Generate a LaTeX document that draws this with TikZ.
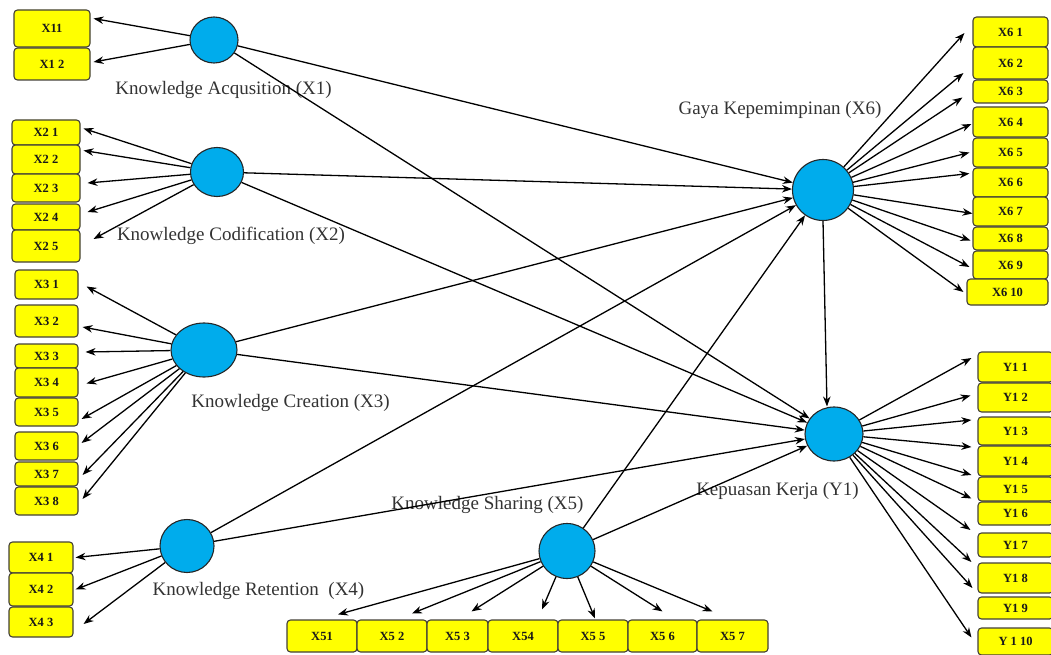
\documentclass[tikz,border=0pt]{standalone}
\usepackage{fontspec}
\setmainfont{Liberation Serif}
\usetikzlibrary{shapes.geometric, arrows.meta}

\definecolor{latentblue}{RGB}{0,172,236}
\definecolor{indyellow}{RGB}{255,255,0}

\begin{document}
\begin{tikzpicture}[
  x=1pt, y=-1pt,
  latent/.style={draw=black!85, ellipse, fill=latentblue, line width=1.1pt, inner sep=0pt},
  ind/.style={draw=black!85!yellow, fill=indyellow, rounded corners=3.5pt, line width=1.1pt, inner sep=0pt, text=black!90, font=\fontsize{12.5}{13}\selectfont\bfseries},
  lbl/.style={font=\fontsize{19}{21}\selectfont, text=black!80},
  arr/.style={-{Stealth[length=10pt,width=7.5pt]}, line width=1.3pt}
]
\useasboundingbox (0,0) rectangle (1051,655);

% ---- Variabel laten ----
\node[latent, minimum width=48pt, minimum height=46pt] (X1) at (214,40) {};
\node[latent, minimum width=53pt, minimum height=49pt] (X2) at (217,172) {};
\node[latent, minimum width=66pt, minimum height=54pt] (X3) at (204,350) {};
\node[latent, minimum width=54pt, minimum height=53pt] (X4) at (187,546) {};
\node[latent, minimum width=56pt, minimum height=55pt] (X5) at (567,551) {};
\node[latent, minimum width=61pt, minimum height=61pt] (X6) at (823,190) {};
\node[latent, minimum width=58pt, minimum height=54pt] (Y1) at (834,434) {};

\node[lbl] (lblX1) at (223.5,90) {Knowledge Acqusition (X1)};
\node[lbl] (lblX2) at (231,236) {Knowledge Codification (X2)};
\node[lbl] (lblX3) at (290.5,403) {Knowledge Creation (X3)};
\node[lbl] (lblX4) at (258.5,591) {Knowledge Retention~~(X4)};
\node[lbl] (lblX5) at (487.5,505) {Knowledge Sharing (X5)};
\node[lbl] (lblX6) at (780,110) {Gaya Kepemimpinan (X6)};
\node[lbl] (lblY1) at (777.5,491) {Kepuasan Kerja (Y1)};

% ---- Indikator kiri ----
\foreach \n/\t/\ya/\yb/\dx/\dy in {x11/X11/10/47/3/-10, x12/X1 2/48/80/3/-2} {
  \node[ind, minimum width=76pt, minimum height=\yb pt-\ya pt] (\n) at (52,{(\ya+\yb)/2}) {\t};
  \draw[arr] (X1) -- ([shift={(\dx,\dy)}]\n.east);
}
\foreach \n/\t/\ya/\yb/\dx/\dy in {x21/X2 1/120/145/3/-4, x22/X2 2/145/174/3/-9, x23/X2 3/174/202/7/-5,
    x24/X2 4/204/230/7/-5, x25/X2 5/230/262/13/-7} {
  \node[ind, minimum width=68pt, minimum height=\yb pt-\ya pt] (\n) at (46,{(\ya+\yb)/2}) {\t};
  \draw[arr] (X2) -- ([shift={(\dx,\dy)}]\n.east);
}
\foreach \n/\t/\ya/\yb/\dx/\dy in {x31/X3 1/270/299/8/2, x32/X3 2/305/337/4/6, x33/X3 3/344/368/7/-4,
    x34/X3 4/368/397/8/1, x35/X3 5/398/426/3/7, x36/X3 6/432/460/3/-3, x37/X3 7/462/486/4/1, x38/X3 8/487/515/4/-2} {
  \node[ind, minimum width=63pt, minimum height=\yb pt-\ya pt] (\n) at (46.5,{(\ya+\yb)/2}) {\t};
  \draw[arr] (X3) -- ([shift={(\dx,\dy)}]\n.east);
}
\foreach \n/\t/\ya/\yb/\dx/\dy in {x41/X4 1/542/573/2/0, x42/X4 2/573/606/2/0, x43/X4 3/607/637/10/2} {
  \node[ind, minimum width=64pt, minimum height=\yb pt-\ya pt] (\n) at (41,{(\ya+\yb)/2}) {\t};
  \draw[arr] (X4) -- ([shift={(\dx,\dy)}]\n.east);
}

% ---- Indikator bawah ----
\foreach \n/\t/\xa/\xb/\dx/\dy in {x51/X51/287/357/16/-5, x52/X5 2/357/427/20/-6, x53/X5 3/427/488/14/-8,
    x54/X54/488/558/19/-10, x55/X5 5/558/628/2/-1, x56/X5 6/628/697/0/-8, x57/X5 7/697/768/-20/-8} {
  \node[ind, minimum width=\xb pt-\xa pt, minimum height=32pt] (\n) at ({(\xa+\xb)/2},636) {\t};
  \draw[arr] (X5) -- ([shift={(\dx,\dy)}]\n.north);
}

% ---- Indikator kanan ----
\foreach \n/\t/\xa/\ya/\yb/\dx/\dy in {x61/X6 1/973/17/47/-8/1, x62/X6 2/973/47/79/-9/10, x63/X6 3/973/80/103/-10/6,
    x64/X6 4/973/107/137/-1/2, x65/X6 5/973/138/167/-3/0, x66/X6 6/973/168/197/-3/-9, x67/X6 7/973/197/226/0/2,
    x68/X6 8/973/227/250/-2/2, x69/X6 9/973/251/279/-3/2, x610/X6 10/967/279/305/-3/0} {
  \node[ind, minimum width=1048pt-\xa pt, minimum height=\yb pt-\ya pt] (\n) at ({(\xa+1048)/2},{(\ya+\yb)/2}) {\t};
  \draw[arr] (X6) -- ([shift={(\dx,\dy)}]\n.west);
}
\foreach \n/\t/\ya/\yb/\dx/\dy in {y11/Y1 1/352/382/-6/-9, y12/Y1 2/383/412/-7/-2, y13/Y1 3/417/445/-6/-11,
    y14/Y1 4/446/476/-6/-14, y15/Y1 5/477/501/-6/-14, y16/Y1 6/502/525/-6/-15, y17/Y1 7/533/557/-7/-15,
    y18/Y1 8/563/593/-6/-16, y19/Y1 9/597/619/-5/-20, y110/Y 1 10/628/655/-6/-4} {
  \node[ind, minimum width=75pt, minimum height=\yb pt-\ya pt] (\n) at (1015.5,{(\ya+\yb)/2}) {\t};
  \draw[arr] (Y1) -- ([shift={(\dx,\dy)}]\n.west);
}

% ---- Model struktural ----
\foreach \s in {X1, X2, X3, X4, X5} {
  \draw[arr] (\s) -- (X6);
  \draw[arr] (\s) -- (Y1);
}
\draw[arr] (X6.south) -- ([xshift=-7pt]Y1.north);

\end{tikzpicture}
\end{document}
